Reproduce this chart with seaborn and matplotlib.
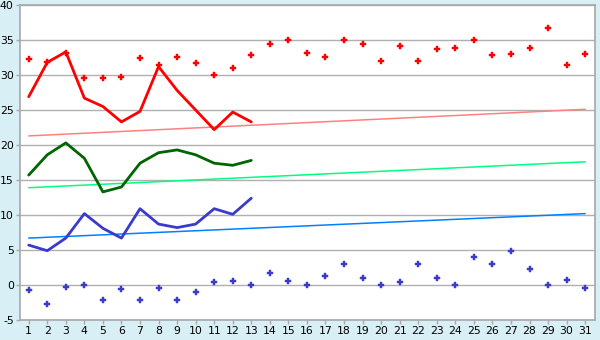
import numpy as np
import pandas as pd
import matplotlib
matplotlib.use("Agg")
import matplotlib.pyplot as plt
import seaborn as sns

days = list(range(1, 32))
line_days = list(range(1, 14))

red_line = [26.9, 31.8, 33.3, 26.7, 25.5, 23.3, 24.8, 31.2, 27.8, 25.0, 22.2, 24.7, 23.3]
green_line = [15.7, 18.6, 20.3, 18.1, 13.3, 14.0, 17.4, 18.9, 19.3, 18.6, 17.4, 17.1, 17.8]
blue_line = [5.7, 4.9, 6.7, 10.2, 8.1, 6.7, 10.9, 8.7, 8.2, 8.7, 10.9, 10.1, 12.4]

red_pts = [32.3, 31.8, 33.2, 29.6, 29.6, 29.7, 32.4, 31.4, 32.6, 31.7, 30.0, 31.0, 32.9,
           34.4, 35.0, 33.1, 32.6, 35.0, 34.4, 32.0, 34.1, 32.0, 33.7, 33.8, 35.0,
           32.9, 33.0, 33.8, 36.7, 31.4, 33.0]
blue_pts = [-0.7, -2.7, -0.3, 0.0, -2.1, -0.6, -2.1, -0.4, -2.1, -1.0, 0.4, 0.6, 0.0,
            1.7, 0.6, 0.0, 1.3, 3.0, 1.0, 0.0, 0.4, 3.0, 1.0, 0.0, 4.0, 3.0, 4.9,
            2.3, 0.0, 0.7, -0.4]

trend_days = [1, 31]
red_trend = [21.3, 25.1]
green_trend = [13.9, 17.6]
blue_trend = [6.7, 10.2]

y_ticks = [-5, 0, 5, 10, 15, 20, 25, 30, 35, 40]

sns.set_theme(style="white")
plt.rcParams['font.family'] = ['DejaVu Sans']
plt.rcParams['axes.unicode_minus'] = False

bg = "#D9EFF6"
fig = plt.figure(figsize=(6, 3.4), dpi=100, facecolor=bg)
ax = fig.add_axes([20/600, 20/340, 575/600, 315/340])
ax.set_facecolor("white")

lines_df = pd.DataFrame({"day": line_days, "red": red_line, "green": green_line, "blue": blue_line})
trend_df = pd.DataFrame({"day": trend_days, "red": red_trend, "green": green_trend, "blue": blue_trend})
pts_df = pd.DataFrame({"day": days, "red": red_pts, "blue": blue_pts})

sns.lineplot(data=trend_df, x="day", y="red", color="#FF8080", linewidth=1.1, ax=ax)
sns.lineplot(data=trend_df, x="day", y="green", color="#00FF80", linewidth=1.1, ax=ax)
sns.lineplot(data=trend_df, x="day", y="blue", color="#0080FF", linewidth=1.1, ax=ax)

sns.lineplot(data=lines_df, x="day", y="red", color="#FF0000", linewidth=2, ax=ax)
sns.lineplot(data=lines_df, x="day", y="green", color="#006400", linewidth=2, ax=ax)
sns.lineplot(data=lines_df, x="day", y="blue", color="#3A3ACC", linewidth=2, ax=ax)

sns.scatterplot(data=pts_df, x="day", y="red", color="#FF0000", marker="P", s=20,
                linewidth=0.3, edgecolor="#FF0000", ax=ax)
sns.scatterplot(data=pts_df, x="day", y="blue", color="#3A3ACC", marker="P", s=20,
                linewidth=0.3, edgecolor="#3A3ACC", ax=ax)

ax.set_xlim(0.53, 31.53)
ax.set_ylim(-5, 40)
ax.set_xticks(days)
ax.set_xticklabels([str(d) for d in days])
ax.set_yticks(y_ticks)
ax.set_yticklabels([str(t) for t in y_ticks])
ax.set_xlabel("")
ax.set_ylabel("")
ax.grid(axis="y", color="#B0B0B0", linewidth=1)
ax.set_axisbelow(True)
for s in ax.spines.values():
    s.set_color("#A8A8A8")
    s.set_linewidth(1.2)
ax.tick_params(axis="both", labelsize=7.8, colors="#A8A8A8", labelcolor="#000000",
               length=3, width=1, direction="out", pad=1.5, left=True, bottom=True)

fig.savefig("out.png", dpi=100, facecolor=bg)
